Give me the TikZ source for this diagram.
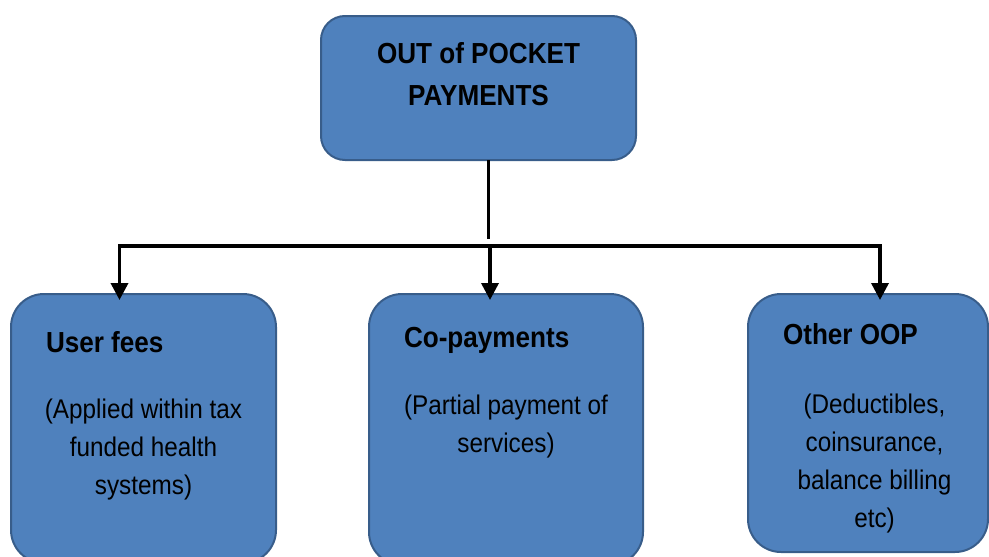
\documentclass[tikz,border=0pt]{standalone}
\usepackage{fontspec}
\setmainfont{Liberation Sans}[FakeStretch=0.9]
\usetikzlibrary{arrows.meta}
\definecolor{boxblue}{HTML}{4F81BD}
\definecolor{boxedge}{HTML}{385D8A}
\newcommand{\headfont}{\fontsize{29}{42}\selectfont\bfseries}
\newcommand{\descfont}{\fontsize{27}{38}\selectfont}

\begin{document}
\begin{tikzpicture}[x=1pt,y=-1pt,
	every node/.style={inner sep=0pt,outer sep=0pt},
	paybox/.style={draw=boxedge,line width=2pt,fill=boxblue,rounded corners=#1},
	headtext/.style={font=\headfont,align=center},
	desctext/.style={font=\descfont,align=center,anchor=north},
	arrowlink/.style={draw=black,line width=3.5pt,-{Triangle[length=17pt,width=17pt]},shorten >=-6pt}]
	\useasboundingbox (0,0) rectangle (989,557);
	\clip (0,0) rectangle (989,557);
	
	% boxes
	\node[paybox=24pt,minimum width=315pt,minimum height=144pt] (oop) at (478.5,88) {};
	\node[paybox=33pt,minimum width=265pt,minimum height=269pt] (fees) at (143.5,428.5) {};
	\node[paybox=33pt,minimum width=274pt,minimum height=271pt] (copay) at (506,429.5) {};
	\node[paybox=33pt,minimum width=240pt,minimum height=258pt] (other) at (868,423) {};
	
	% texts
	\node[headtext,anchor=north] (oop text) at (478.5,42.6) {OUT of POCKET\\PAYMENTS};
	\node[headtext,anchor=base west] (fees title) at (46,352) {User fees};
	\node[headtext,anchor=base west] (copay title) at (404,347) {Co-payments};
	\node[headtext,anchor=base west] (other title) at (783,344) {Other OOP};
	\node[desctext] (fees text) at (143.5,399.3) {(Applied within tax\\funded health\\systems)};
	\node[desctext] (copay text) at (506,395.3) {(Partial payment of\\services)};
	\node[desctext] (other text) at (874.5,393.5) {(Deductibles,\\coinsurance,\\balance billing\\etc)};
	
	% connectors
	\coordinate (stem) at (488.5,239);
	\coordinate (busL) at (119.5,246);
	\coordinate (busM) at (490,246);
	\coordinate (busR) at (880,246);
	\draw[line width=3.5pt] (oop.south -| stem) -- (stem);
	\draw[arrowlink] (busM) -- (busL) -- (busL |- fees.north);
	\draw[arrowlink] (busM) -- (busM |- copay.north);
	\draw[arrowlink] (busM) -- (busR) -- (busR |- other.north);
\end{tikzpicture}
\end{document}
